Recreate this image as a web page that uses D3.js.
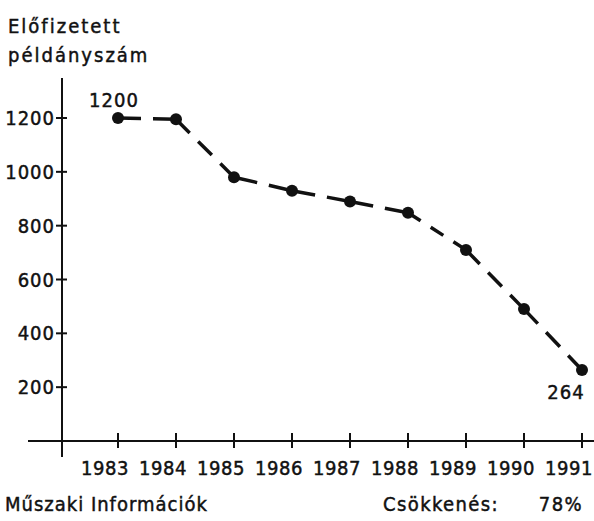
<!DOCTYPE html>
<html>
<head>
<meta charset="utf-8">
<script src="https://cdn.jsdelivr.net/npm/d3@7"></script>
<style>
  html, body { margin: 0; padding: 0; background: #fff; }
  svg { display: block; }
  text {
    font-family: "DejaVu Sans Condensed", "DejaVu Sans", sans-serif;
    fill: #111; stroke: #111; stroke-width: 0.45px;
    letter-spacing: 1px;
  }
</style>
</head>
<body>
<svg id="chart" width="594" height="521"></svg>
<script>
// subscribed copies per year
var years = [1983, 1984, 1985, 1986, 1987, 1988, 1989, 1990, 1991];
var copies = [1200, 1195, 980, 930, 890, 848, 710, 490, 264];
var yTicks = [200, 400, 600, 800, 1000, 1200];
var yTitle = ['Előfizetett', 'példányszám'];
var footLeft = 'Műszaki Információk';
var footRight = ['Csökkenés:', '78%'];

var svg = d3.select('#chart');

var x = d3.scaleLinear().domain([1983, 1991]).range([118, 582]);
var y = d3.scaleLinear().domain([0, 1200]).range([441, 118]);

// y axis
var yAxis = svg.append('g').attr('transform', 'translate(62,0)');
yAxis.append('line')
  .attr('y1', 78).attr('y2', 457)
  .attr('stroke', '#111').attr('stroke-width', 2);
yAxis.selectAll('.yt')
  .data(yTicks)
  .enter()
  .append('line')
  .attr('x1', -6).attr('x2', 5)
  .attr('y1', function(d) { return y(d); })
  .attr('y2', function(d) { return y(d); })
  .attr('stroke', '#111').attr('stroke-width', 2);
yAxis.selectAll('text')
  .data(yTicks)
  .enter()
  .append('text')
  .attr('x', -7)
  .attr('y', function(d) { return y(d) + 7; })
  .attr('text-anchor', 'end')
  .attr('font-size', 20)
  .text(function(d) { return d; });

// x axis
var xAxis = svg.append('g').attr('transform', 'translate(0,441)');
xAxis.append('line')
  .attr('x1', 28).attr('x2', 594)
  .attr('stroke', '#111').attr('stroke-width', 2);
xAxis.selectAll('.xt')
  .data(years)
  .enter()
  .append('line')
  .attr('x1', function(d) { return x(d); })
  .attr('x2', function(d) { return x(d); })
  .attr('y1', -8).attr('y2', 7)
  .attr('stroke', '#111').attr('stroke-width', 2);
xAxis.selectAll('text')
  .data(years)
  .enter()
  .append('text')
  .attr('x', function(d) { return x(d) - 13; })
  .attr('y', 34)
  .attr('text-anchor', 'middle')
  .attr('font-size', 20)
  .style('letter-spacing', '0.5px')
  .text(function(d) { return d; });

// dashed segments, each one starts and ends solid at the dots
var pts = years.map(function(yr, i) { return [x(yr), y(copies[i])]; });
var segs = d3.pairs(pts);
var dash = 18, gap = 12;
svg.append('g').selectAll('line')
  .data(segs)
  .enter()
  .append('line')
  .attr('x1', function(s) { return s[0][0]; })
  .attr('y1', function(s) { return s[0][1]; })
  .attr('x2', function(s) { return s[1][0]; })
  .attr('y2', function(s) { return s[1][1]; })
  .attr('stroke', '#111')
  .attr('stroke-width', 3.5)
  .attr('stroke-dasharray', function(s) {
    var L = Math.hypot(s[1][0] - s[0][0], s[1][1] - s[0][1]);
    var n = Math.max(1, Math.round((L + gap) / (dash + gap)));
    var d = (L - (n - 1) * gap) / n;
    return d + ' ' + gap;
  });

svg.append('g').selectAll('circle')
  .data(pts)
  .enter()
  .append('circle')
  .attr('cx', function(p) { return p[0]; })
  .attr('cy', function(p) { return p[1]; })
  .attr('r', 6)
  .attr('fill', '#111');

// value labels for first and last point
svg.append('text')
  .attr('x', x(years[0]) - 4)
  .attr('y', y(copies[0]) - 11)
  .attr('text-anchor', 'middle')
  .attr('font-size', 20)
  .text(copies[0]);
svg.append('text')
  .attr('x', x(years[years.length - 1]) - 16)
  .attr('y', y(copies[copies.length - 1]) + 29)
  .attr('text-anchor', 'middle')
  .attr('font-size', 20)
  .text(copies[copies.length - 1]);

// axis title
svg.append('g').selectAll('text')
  .data(yTitle)
  .enter()
  .append('text')
  .attr('x', 8)
  .attr('y', function(d, i) { return 33 + i * 29; })
  .attr('font-size', 20)
  .style('letter-spacing', '2px')
  .text(function(d) { return d; });

// footer
svg.append('text')
  .attr('x', 5).attr('y', 511)
  .attr('font-size', 20)
  .style('letter-spacing', '1px')
  .text(footLeft);
svg.append('text')
  .attr('x', 383).attr('y', 511)
  .attr('font-size', 20)
  .style('letter-spacing', '1.4px')
  .text(footRight[0]);
svg.append('text')
  .attr('x', 583).attr('y', 511)
  .attr('text-anchor', 'end')
  .attr('font-size', 20)
  .style('letter-spacing', '1.4px')
  .text(footRight[1]);
</script>
</body>
</html>
